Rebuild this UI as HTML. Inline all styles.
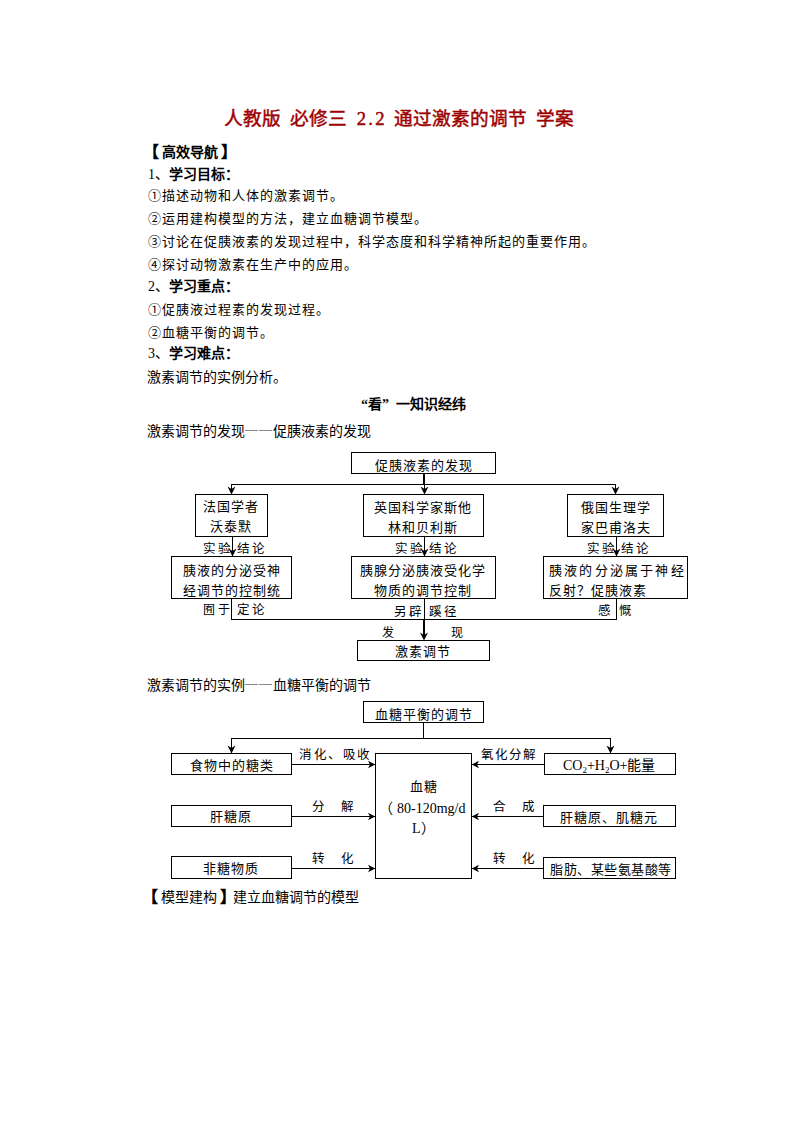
<!DOCTYPE html>
<html lang="zh-CN"><head><meta charset="utf-8"><style>
html,body{margin:0;padding:0;background:#fff;}
body{width:794px;height:1123px;position:relative;overflow:hidden;}
.t{position:absolute;white-space:nowrap;font-family:"Liberation Serif",serif;font-size:13px;line-height:14px;letter-spacing:1px;color:#000;}
.n{font-family:"Liberation Serif",serif;}
b{font-weight:bold;}
.h{display:inline-block;width:0.5em;text-align:center;}
.q{display:inline-block;width:1em;text-align:center;}
.dd{display:inline-block;width:28px;height:14px;vertical-align:top;background:linear-gradient(#888,#888) no-repeat 0px 4.5px/13px 1px,linear-gradient(#888,#888) no-repeat 14px 4.5px/13px 1px;}
sub{font-size:9px;vertical-align:-3px;line-height:0;}
</style></head><body>

<svg width="794" height="1123" style="position:absolute;left:0;top:0">
<rect x="351.5" y="452.5" width="144" height="21" fill="none" stroke="#000" stroke-width="1"/>
<rect x="195.5" y="494.5" width="72" height="42" fill="none" stroke="#000" stroke-width="1"/>
<rect x="363.5" y="494.5" width="120" height="42" fill="none" stroke="#000" stroke-width="1"/>
<rect x="567.5" y="494.5" width="96" height="42" fill="none" stroke="#000" stroke-width="1"/>
<rect x="171.5" y="556.5" width="120" height="42" fill="none" stroke="#000" stroke-width="1"/>
<rect x="351.5" y="556.5" width="144" height="42" fill="none" stroke="#000" stroke-width="1"/>
<rect x="543.5" y="556.5" width="144" height="42" fill="none" stroke="#000" stroke-width="1"/>
<rect x="357.5" y="640.5" width="132" height="20" fill="none" stroke="#000" stroke-width="1"/>
<rect x="363.5" y="701.5" width="120" height="21" fill="none" stroke="#000" stroke-width="1"/>
<rect x="171.5" y="753.5" width="120" height="21" fill="none" stroke="#000" stroke-width="1"/>
<rect x="544.5" y="753.5" width="131" height="21" fill="none" stroke="#000" stroke-width="1"/>
<rect x="375.5" y="753.5" width="96" height="125" fill="none" stroke="#000" stroke-width="1"/>
<rect x="171.5" y="805.5" width="120" height="21" fill="none" stroke="#000" stroke-width="1"/>
<rect x="171.5" y="856.5" width="120" height="22" fill="none" stroke="#000" stroke-width="1"/>
<rect x="543.5" y="805.5" width="132" height="21" fill="none" stroke="#000" stroke-width="1"/>
<rect x="543.5" y="857.5" width="132" height="21" fill="none" stroke="#000" stroke-width="1"/>
<rect x="423" y="473" width="2" height="12" fill="#000"/>
<rect x="231" y="484" width="1" height="11" fill="#000"/>
<rect x="424" y="484" width="1" height="11" fill="#000"/>
<rect x="615" y="484" width="1" height="11" fill="#000"/>
<rect x="232" y="536" width="1" height="21" fill="#000"/>
<rect x="424" y="536" width="1" height="21" fill="#000"/>
<rect x="616" y="536" width="1" height="21" fill="#000"/>
<rect x="231" y="598" width="1" height="22" fill="#000"/>
<rect x="616" y="598" width="1" height="22" fill="#000"/>
<rect x="424" y="598" width="1" height="22" fill="#000"/>
<rect x="423" y="619" width="2" height="17" fill="#000"/>
<rect x="423" y="722" width="1" height="17" fill="#000"/>
<rect x="231" y="738" width="1" height="16" fill="#000"/>
<rect x="610" y="738" width="1" height="16" fill="#000"/>
<rect x="231" y="484" width="385" height="1" fill="#000"/>
<rect x="231" y="619" width="386" height="1" fill="#000"/>
<rect x="231" y="738" width="380" height="1" fill="#000"/>
<rect x="291" y="764" width="85" height="1" fill="#000"/>
<rect x="291" y="816" width="85" height="1" fill="#000"/>
<rect x="291" y="868" width="85" height="1" fill="#000"/>
<rect x="471" y="764" width="74" height="1" fill="#000"/>
<rect x="471" y="816" width="73" height="1" fill="#000"/>
<rect x="471" y="868" width="73" height="1" fill="#000"/>
<path d="M231.5 494.6 L227.5 486.5 L231.5 489 L235.5 486.5 Z" fill="#000"/>
<path d="M424.5 494.6 L420.5 486.5 L424.5 489 L428.5 486.5 Z" fill="#000"/>
<path d="M615.5 494.6 L611.5 486.5 L615.5 489 L619.5 486.5 Z" fill="#000"/>
<path d="M232.5 556.6 L228.5 548.5 L232.5 551 L236.5 548.5 Z" fill="#000"/>
<path d="M424.5 556.6 L420.5 548.5 L424.5 551 L428.5 548.5 Z" fill="#000"/>
<path d="M616.5 556.6 L612.5 548.5 L616.5 551 L620.5 548.5 Z" fill="#000"/>
<path d="M424.0 640.6 L420.0 632.5 L424.0 635 L428.0 632.5 Z" fill="#000"/>
<path d="M231.5 753.6 L227.5 745.5 L231.5 748 L235.5 745.5 Z" fill="#000"/>
<path d="M610.5 753.6 L606.5 745.5 L610.5 748 L614.5 745.5 Z" fill="#000"/>
<path d="M375.2 764.5 L368 760.7 L370 764.5 L368 768.3 Z" fill="#000"/>
<path d="M471.8 764.5 L479 760.7 L477 764.5 L479 768.3 Z" fill="#000"/>
<path d="M375.2 816.5 L368 812.7 L370 816.5 L368 820.3 Z" fill="#000"/>
<path d="M471.8 816.5 L479 812.7 L477 816.5 L479 820.3 Z" fill="#000"/>
<path d="M375.2 868.5 L368 864.7 L370 868.5 L368 872.3 Z" fill="#000"/>
<path d="M471.8 868.5 L479 864.7 L477 868.5 L479 872.3 Z" fill="#000"/>
</svg>
<div class="t" style="left:224px;top:110px;letter-spacing:0;font-size:18.67px;line-height:18.67px;color:#9c0000;-webkit-text-stroke:0.45px #9c0000;">人教版<span class="h"> </span>必修三<span class="h"> </span><span class="h">2</span><span class="h">.</span><span class="h">2</span><span class="h"> </span>通过激素的调节<span class="h"> </span>学案</div>
<div class="t" style="left:148px;top:145px;letter-spacing:0;font-size:14px;font-weight:bold;"><span style="margin-left:-5px;margin-right:3px;font-size:16px;line-height:14px">【</span>高效导航<span style="margin-left:3px;font-size:16px;line-height:14px">】</span></div>
<div class="t" style="left:148px;top:168px;letter-spacing:0;font-size:14px;"><span class="n">1</span>、<b>学习目标：</b></div>
<div class="t" style="left:148px;top:189px;">①描述动物和人体的激素调节。</div>
<div class="t" style="left:148px;top:212px;">②运用建构模型的方法，建立血糖调节模型。</div>
<div class="t" style="left:148px;top:235px;">③讨论在促胰液素的发现过程中，科学态度和科学精神所起的重要作用。</div>
<div class="t" style="left:148px;top:258px;">④探讨动物激素在生产中的应用。</div>
<div class="t" style="left:148px;top:280px;letter-spacing:0;font-size:14px;"><span class="n">2</span>、<b>学习重点：</b></div>
<div class="t" style="left:148px;top:303px;">①促胰液过程素的发现过程。</div>
<div class="t" style="left:148px;top:326px;">②血糖平衡的调节。</div>
<div class="t" style="left:148px;top:347px;letter-spacing:0;font-size:14px;"><span class="n">3</span>、<b>学习难点：</b></div>
<div class="t" style="left:147px;top:371px;letter-spacing:0;font-size:14px;">激素调节的实例分析。</div>
<div class="t" style="left:354px;top:398px;letter-spacing:0;font-size:14px;font-weight:bold;"><span class="q" style="text-align:right">“</span>看<span class="q" style="text-align:left">”</span>一知识经纬</div>
<div class="t" style="left:147px;top:425px;letter-spacing:0;font-size:14px;">激素调节的发现<span class="dd"></span>促胰液素的发现</div>
<div class="t" style="left:375px;top:459px;">促胰液素的发现</div>
<div class="t" style="left:203px;top:500px;">法国学者</div>
<div class="t" style="left:210px;top:520px;">沃泰默</div>
<div class="t" style="left:374px;top:501px;">英国科学家斯他</div>
<div class="t" style="left:388px;top:521px;">林和贝利斯</div>
<div class="t" style="left:581px;top:501px;">俄国生理学</div>
<div class="t" style="left:581px;top:521px;">家巴甫洛夫</div>
<div class="t" style="left:203px;top:543px;font-size:12.5px;line-height:13px;letter-spacing:1.5px;">实验</div>
<div class="t" style="left:237px;top:543px;font-size:12.5px;line-height:13px;letter-spacing:1.5px;">结论</div>
<div class="t" style="left:395px;top:543px;font-size:12.5px;line-height:13px;letter-spacing:1.5px;">实验</div>
<div class="t" style="left:429px;top:543px;font-size:12.5px;line-height:13px;letter-spacing:1.5px;">结论</div>
<div class="t" style="left:587px;top:543px;font-size:12.5px;line-height:13px;letter-spacing:1.5px;">实验</div>
<div class="t" style="left:621px;top:543px;font-size:12.5px;line-height:13px;letter-spacing:1.5px;">结论</div>
<div class="t" style="left:183px;top:564px;">胰液的分泌受神</div>
<div class="t" style="left:183px;top:584px;">经调节的控制统</div>
<div class="t" style="left:360px;top:564px;">胰腺分泌胰液受化学</div>
<div class="t" style="left:374px;top:584px;">物质的调节控制</div>
<div class="t" style="left:549px;top:564px;letter-spacing:2.2px;">胰液的分泌属于神经</div>
<div class="t" style="left:549px;top:584px;">反射？促胰液素</div>
<div class="t" style="left:203px;top:604px;font-size:12px;line-height:12px;letter-spacing:0;">囿 于</div>
<div class="t" style="left:237px;top:604px;font-size:12.5px;line-height:13px;letter-spacing:1.5px;">定论</div>
<div class="t" style="left:394px;top:606px;font-size:12.5px;line-height:13px;letter-spacing:1.5px;">另辟</div>
<div class="t" style="left:429px;top:606px;font-size:12.5px;line-height:13px;letter-spacing:1.5px;">蹊径</div>
<div class="t" style="left:598px;top:605px;font-size:12.5px;line-height:13px;letter-spacing:1.5px;">感</div>
<div class="t" style="left:619px;top:605px;font-size:12.5px;line-height:13px;letter-spacing:1.5px;">慨</div>
<div class="t" style="left:382px;top:627px;font-size:12px;line-height:12px;">发</div>
<div class="t" style="left:451px;top:627px;font-size:12px;line-height:12px;">现</div>
<div class="t" style="left:395px;top:645px;">激素调节</div>
<div class="t" style="left:147px;top:679px;letter-spacing:0;font-size:14px;">激素调节的实例<span class="dd"></span>血糖平衡的调节</div>
<div class="t" style="left:375px;top:708px;">血糖平衡的调节</div>
<div class="t" style="left:190px;top:759px;">食物中的糖类</div>
<div class="t" style="left:563px;top:759px;letter-spacing:0;font-size:14px;">CO<sub>2</sub>+H<sub>2</sub>O+能量</div>
<div class="t" style="left:299px;top:749px;font-size:12.5px;line-height:13px;letter-spacing:1.5px;">消化、吸收</div>
<div class="t" style="left:481px;top:749px;font-size:12.5px;line-height:13px;letter-spacing:1.5px;letter-spacing:1.1px;">氧化分解</div>
<div class="t" style="left:410px;top:780px;">血糖</div>
<div class="t" style="left:379px;top:802px;letter-spacing:0;font-size:14px;"><span style="margin-right:4px">（</span>80-120mg/d</div>
<div class="t" style="left:412px;top:822px;letter-spacing:0;font-size:14px;">L）</div>
<div class="t" style="left:210px;top:810px;">肝糖原</div>
<div class="t" style="left:312px;top:801px;font-size:12.5px;line-height:13px;letter-spacing:1.5px;letter-spacing:0;">分&nbsp;&nbsp;&nbsp;&nbsp;&nbsp;解</div>
<div class="t" style="left:493px;top:801px;font-size:12.5px;line-height:13px;letter-spacing:1.5px;letter-spacing:0;">合&nbsp;&nbsp;&nbsp;&nbsp;&nbsp;成</div>
<div class="t" style="left:560px;top:811px;">肝糖原、肌糖元</div>
<div class="t" style="left:203px;top:862px;">非糖物质</div>
<div class="t" style="left:312px;top:853px;font-size:12.5px;line-height:13px;letter-spacing:1.5px;letter-spacing:0;">转&nbsp;&nbsp;&nbsp;&nbsp;&nbsp;化</div>
<div class="t" style="left:493px;top:853px;font-size:12.5px;line-height:13px;letter-spacing:1.5px;letter-spacing:0;">转&nbsp;&nbsp;&nbsp;&nbsp;&nbsp;化</div>
<div class="t" style="left:550px;top:863px;letter-spacing:0.55px;">脂肪、某些氨基酸等</div>
<div class="t" style="left:147px;top:890px;letter-spacing:0;font-size:14px;"><b style="margin-left:-5px;margin-right:3px;font-size:16px;line-height:14px">【</b>模型建构<b style="margin-left:3px;font-size:16px;line-height:14px;margin-right:-3px">】</b>建立血糖调节的模型</div>
</body></html>
